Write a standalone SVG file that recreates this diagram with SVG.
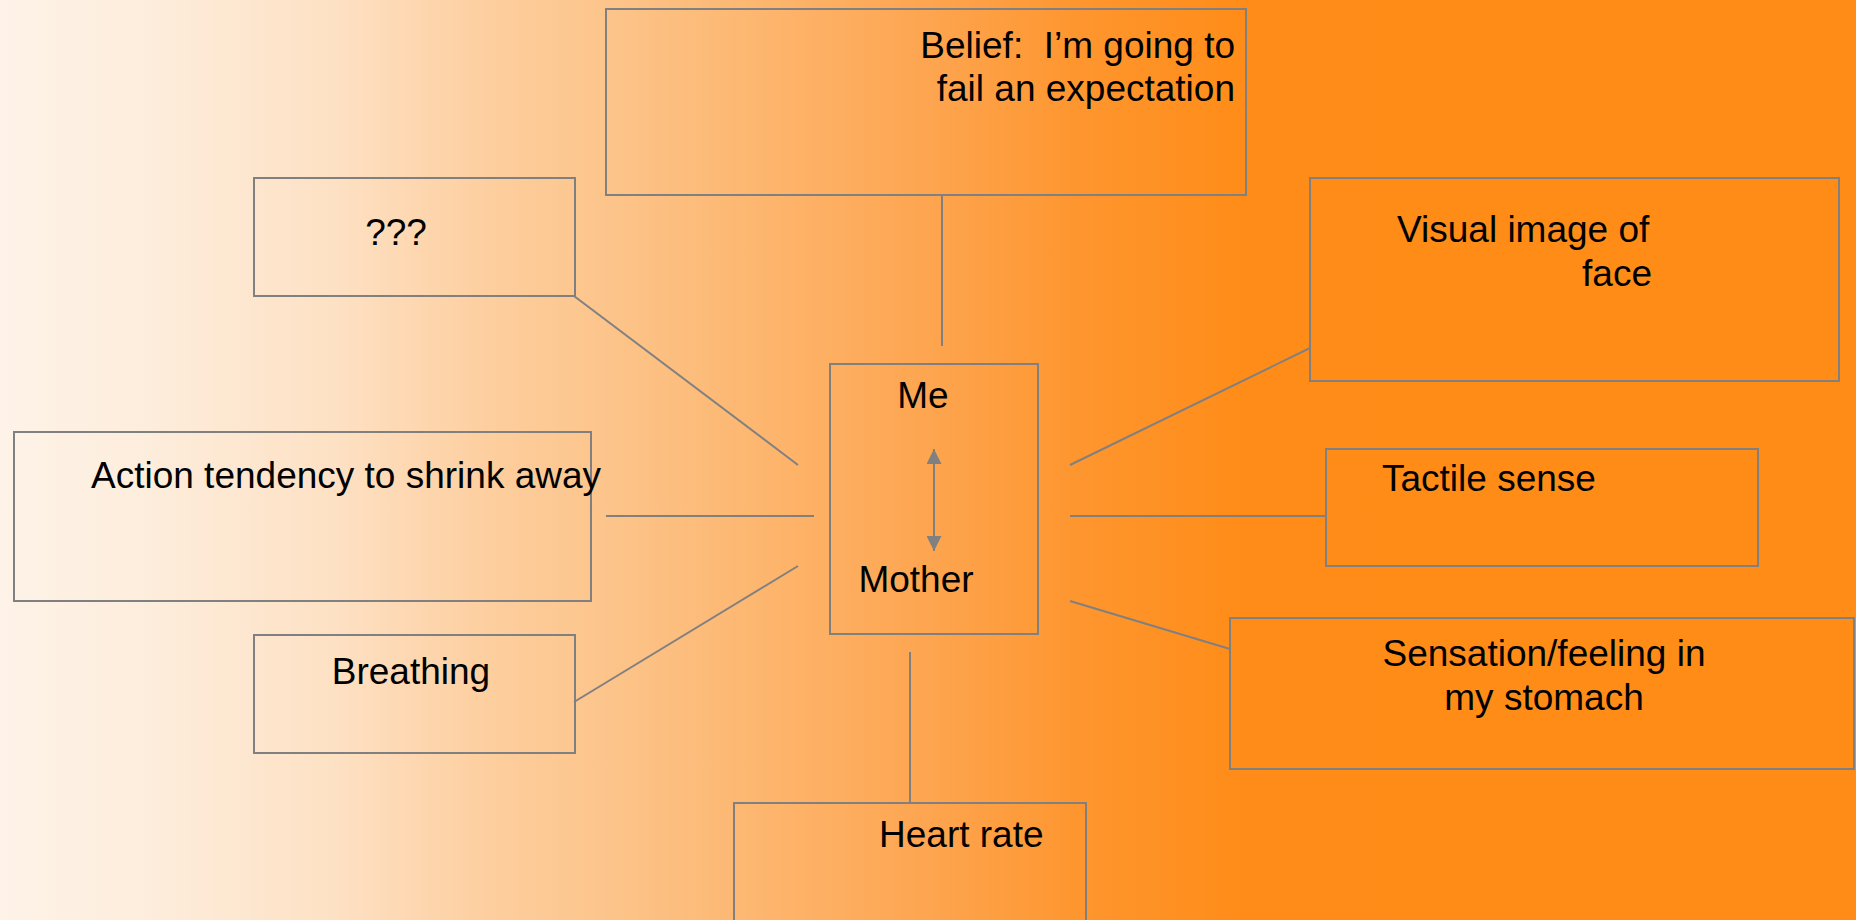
<svg xmlns="http://www.w3.org/2000/svg" width="1856" height="920" viewBox="0 0 1856 920">
<style>
.box{fill:none;stroke:#808080;stroke-width:2}
.conn{stroke:#808080;stroke-width:2;fill:none}
text{font-family:"Liberation Sans",Arial,sans-serif;font-size:37px;fill:#000;white-space:pre}
.mid{text-anchor:middle}
.end{text-anchor:end}
</style>
<defs>
<linearGradient id="bg" x1="0" y1="0" x2="1856" y2="0" gradientUnits="userSpaceOnUse">
<stop offset="0" stop-color="#FEF3E8"/>
<stop offset="0.08" stop-color="#FDEDDC"/>
<stop offset="0.18" stop-color="#FDE1C4"/>
<stop offset="0.27" stop-color="#FDCD9C"/>
<stop offset="0.33" stop-color="#FCC48A"/>
<stop offset="0.42" stop-color="#FDB46B"/>
<stop offset="0.50" stop-color="#FDA550"/>
<stop offset="0.58" stop-color="#FE962F"/>
<stop offset="0.67" stop-color="#FF8C18"/>
<stop offset="1" stop-color="#FF8C17"/>
</linearGradient>
<marker id="ah" viewBox="0 0 10 10" refX="10" refY="5" markerWidth="15" markerHeight="15" markerUnits="userSpaceOnUse" orient="auto-start-reverse">
<path d="M0,0 L10,5 L0,10 Z" fill="#808080"/>
</marker>
</defs>
<rect x="0" y="0" width="1856" height="920" fill="url(#bg)"/>
<g id="connectors">
<line class="conn" x1="942" y1="195" x2="942" y2="346"/>
<line class="conn" x1="574" y1="296" x2="798" y2="465"/>
<line class="conn" x1="606" y1="516" x2="814" y2="516"/>
<line class="conn" x1="574" y1="702" x2="798" y2="566"/>
<line class="conn" x1="1070" y1="465" x2="1310" y2="348"/>
<line class="conn" x1="1070" y1="516" x2="1326" y2="516"/>
<line class="conn" x1="1070" y1="601" x2="1230" y2="649"/>
<line class="conn" x1="910" y1="652" x2="910" y2="803"/>
</g>
<g id="belief">
<rect class="box" x="606" y="9" width="640" height="186"/>
<text class="end" x="1235" y="58" xml:space="preserve">Belief:  I’m going to</text>
<text class="end" x="1235" y="101">fail an expectation</text>
</g>
<g id="unknown">
<rect class="box" x="254" y="178" width="321" height="118"/>
<text class="mid" x="396" y="245">???</text>
</g>
<g id="action">
<rect class="box" x="14" y="432" width="577" height="169"/>
<text x="91" y="488">Action tendency to shrink away</text>
</g>
<g id="breathing">
<rect class="box" x="254" y="635" width="321" height="118"/>
<text class="mid" x="411" y="684">Breathing</text>
</g>
<g id="center">
<rect class="box" x="830" y="364" width="208" height="270"/>
<text class="mid" x="923" y="408">Me</text>
<text class="mid" x="916" y="592">Mother</text>
<line class="conn" x1="934" y1="449" x2="934" y2="551" marker-start="url(#ah)" marker-end="url(#ah)"/>
</g>
<g id="visual">
<rect class="box" x="1310" y="178" width="529" height="203"/>
<text x="1397" y="242">Visual image of</text>
<text class="end" x="1652" y="286">face</text>
</g>
<g id="tactile">
<rect class="box" x="1326" y="449" width="432" height="117"/>
<text x="1382" y="491">Tactile sense</text>
</g>
<g id="sensation">
<rect class="box" x="1230" y="618" width="624" height="151"/>
<text class="mid" x="1544" y="666">Sensation/feeling in</text>
<text class="mid" x="1544" y="710">my stomach</text>
</g>
<g id="heart">
<rect class="box" x="734" y="803" width="352" height="200"/>
<text x="879" y="847">Heart rate</text>
</g>
</svg>
